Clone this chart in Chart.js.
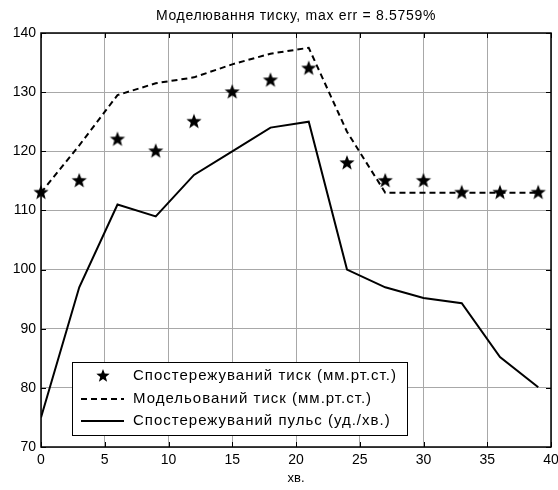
<!DOCTYPE html>
<html>
<head>
<meta charset="utf-8">
<script src="https://cdn.jsdelivr.net/npm/chart.js@4.4.0/dist/chart.umd.min.js"></script>
<style>
html, body { margin: 0; padding: 0; background: #fff; }
</style>
</head>
<body>
<canvas id="chart" width="558" height="490"></canvas>
<script>
const minutes = [0, 3, 6, 9, 12, 15, 18, 21, 24, 27, 30, 33, 36, 39];
const observedPressure = [113, 115, 122, 120, 125, 130, 132, 134, 118, 115, 115, 113, 113, 113];
const modelPressure = [113, 121, 129.5, 131.5, 132.5, 134.7, 136.5, 137.5, 123.3, 113, 113, 113, 113, 113];
const observedPulse = [75, 97, 111, 109, 116, 120, 124, 125, 100, 97, 95.2, 94.3, 85.2, 80.1];
const xTicks = [0, 5, 10, 15, 20, 25, 30, 35, 40];
const yTicks = [70, 80, 90, 100, 110, 120, 130, 140];
const seriesLabels = ['Спостережуваний тиск (мм.рт.ст.)', 'Модельований тиск (мм.рт.ст.)', 'Спостережуваний пульс (уд./хв.)'];
const titleText = 'Моделювання тиску, max err = 8.5759%';
const xLabel = 'хв.';

const FONT = '"Liberation Sans", Arial, sans-serif';

function makeStar(r) {
	const c = document.createElement('canvas');
	const s = Math.ceil(r * 2 + 2);
	c.width = s; c.height = s;
	const g = c.getContext('2d');
	g.beginPath();
	for (let i = 0; i < 10; i++) {
		const rr = i % 2 === 0 ? r : r * 0.42;
		const a = -Math.PI / 2 + i * Math.PI / 5;
		const px = s / 2 + rr * Math.cos(a);
		const py = s / 2 + rr * Math.sin(a);
		if (i === 0) g.moveTo(px, py); else g.lineTo(px, py);
	}
	g.closePath();
	g.fillStyle = '#000';
	g.fill();
	return c;
}
const starImg = makeStar(8);
const legendStar = makeStar(7);

function toPoints(ys) {
	return minutes.map((m, i) => ({ x: m, y: ys[i] }));
}

// box, inward ticks, title and legend like the matlab figure
const matlabFrame = {
	id: 'matlabFrame',
	afterDatasetsDraw(chart) {
		const { ctx, chartArea: a, scales: { x, y } } = chart;
		ctx.save();
		ctx.strokeStyle = '#000';
		ctx.lineWidth = 1.5;
		ctx.strokeRect(a.left, a.top, a.right - a.left, a.bottom - a.top);
		ctx.lineWidth = 1;
		ctx.beginPath();
		for (const v of xTicks) {
			const px = Math.round(x.getPixelForValue(v)) + 0.5;
			ctx.moveTo(px, a.bottom); ctx.lineTo(px, a.bottom - 5);
			ctx.moveTo(px, a.top); ctx.lineTo(px, a.top + 5);
		}
		for (const v of yTicks) {
			const py = Math.round(y.getPixelForValue(v)) + 0.5;
			ctx.moveTo(a.left, py); ctx.lineTo(a.left + 5, py);
			ctx.moveTo(a.right, py); ctx.lineTo(a.right - 5, py);
		}
		ctx.stroke();

		// title
		ctx.fillStyle = '#000';
		ctx.font = '14px ' + FONT;
		ctx.letterSpacing = '0.7px';
		ctx.textAlign = 'center';
		ctx.textBaseline = 'middle';
		ctx.fillText(titleText, (a.left + a.right) / 2, 16);

		// legend
		const lx = 72, ly = 362, lw = 335, lh = 73;
		ctx.fillStyle = '#fff';
		ctx.fillRect(lx, ly, lw, lh);
		ctx.strokeStyle = '#000';
		ctx.lineWidth = 1;
		ctx.strokeRect(lx + 0.5, ly + 0.5, lw, lh);
		const rows = [376, 399, 421];
		chart.data.datasets.forEach((ds, i) => {
			const ry = rows[i];
			if (ds.showLine === false) {
				ctx.drawImage(legendStar, 103 - legendStar.width / 2, ry - legendStar.height / 2);
			} else {
				ctx.strokeStyle = '#000';
				ctx.lineWidth = 2;
				ctx.setLineDash(ds.borderDash || []);
				ctx.beginPath();
				ctx.moveTo(81, ry); ctx.lineTo(124, ry);
				ctx.stroke();
				ctx.setLineDash([]);
			}
			ctx.fillStyle = '#000';
			ctx.font = '15px ' + FONT;
			ctx.letterSpacing = '1px';
			ctx.textAlign = 'left';
			ctx.fillText(ds.label, 133, ry);
		});
		ctx.letterSpacing = '0px';
		ctx.restore();
	}
};

new Chart(document.getElementById('chart'), {
	type: 'scatter',
	data: {
		datasets: [{
			label: seriesLabels[0],
			data: toPoints(observedPressure),
			showLine: false,
			pointStyle: starImg,
			clip: false,
		}, {
			label: seriesLabels[1],
			data: toPoints(modelPressure),
			showLine: true,
			borderColor: '#000',
			borderWidth: 2,
			borderDash: [6, 4],
			pointRadius: 0,
		}, {
			label: seriesLabels[2],
			data: toPoints(observedPulse),
			showLine: true,
			borderColor: '#000',
			borderWidth: 2,
			pointRadius: 0,
		}]
	},
	options: {
		responsive: false,
		animation: false,
		layout: { padding: { top: 33, right: 7, bottom: 0, left: 0 } },
		plugins: {
			legend: { display: false },
			title: { display: false },
			tooltip: { enabled: false }
		},
		scales: {
			x: {
				type: 'linear',
				min: 0,
				max: 40,
				afterBuildTicks: (s) => { s.ticks = xTicks.map(v => ({ value: v })); },
				afterFit: (s) => { s.height = 43; s.paddingLeft = 0; s.paddingRight = 0; },
				grid: { color: '#a8a8a8', drawTicks: false },
				border: { display: false },
				ticks: { color: '#000', font: { family: FONT, size: 14 }, padding: 5, maxRotation: 0 },
				title: { display: true, text: xLabel, color: '#000', font: { family: FONT, size: 13 }, padding: { top: 0, bottom: 4 } }
			},
			y: {
				min: 70,
				max: 140,
				afterBuildTicks: (s) => { s.ticks = yTicks.map(v => ({ value: v })); },
				afterFit: (s) => { s.width = 41; s.paddingTop = 0; s.paddingBottom = 0; },
				grid: { color: '#a8a8a8', drawTicks: false },
				border: { display: false },
				ticks: { color: '#000', font: { family: FONT, size: 14 }, padding: 5 }
			}
		}
	},
	plugins: [matlabFrame]
});
</script>
</body>
</html>
